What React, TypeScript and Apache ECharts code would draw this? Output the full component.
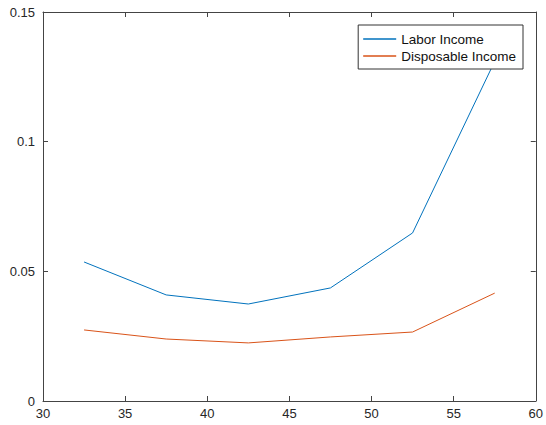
import React, { useEffect, useRef } from "react";
import * as echarts from "echarts";

const xValues = [32.5, 37.5, 42.5, 47.5, 52.5, 57.5];
const laborIncome = [0.0536, 0.0409, 0.0374, 0.0436, 0.0648, 0.131];
const disposableIncome = [0.0274, 0.0239, 0.0224, 0.0247, 0.0266, 0.0416];
const seriesNames = ["Labor Income", "Disposable Income"];

export default function App() {
  const ref = useRef<HTMLDivElement>(null);
  useEffect(() => {
    const chart = echarts.init(ref.current!, null, { renderer: "svg" });
    const axisColor = "#444";
    const labelStyle = { color: "#262626", fontSize: 13, fontFamily: "Liberation Sans, Arial, sans-serif" };
    const tickCommon = { show: true, inside: true, length: 5, lineStyle: { color: axisColor } };
    chart.setOption({
      animation: false,
      grid: { left: 43, right: 10, top: 12, bottom: 24, containLabel: false },
      legend: {
        right: 23,
        top: 25,
        orient: "vertical",
        backgroundColor: "#fff",
        borderColor: "#333",
        borderWidth: 1,
        borderRadius: 0,
        padding: [6, 7, 5, 5],
        itemGap: 1,
        itemWidth: 33,
        itemHeight: 1.5,
        icon: "rect",
        textStyle: { color: "#111", fontSize: 13.5, lineHeight: 16, fontFamily: "Liberation Sans, Arial, sans-serif" },
        data: seriesNames,
      },
      xAxis: [
        {
          type: "value",
          min: 30,
          max: 60,
          interval: 5,
          axisLine: { show: true, lineStyle: { color: axisColor } },
          axisTick: tickCommon,
          axisLabel: { ...labelStyle, margin: 6 },
          splitLine: { show: false },
        },
        {
          type: "value",
          position: "top",
          min: 30,
          max: 60,
          interval: 5,
          axisLine: { show: true, onZero: false, lineStyle: { color: axisColor } },
          axisTick: tickCommon,
          axisLabel: { show: false },
          splitLine: { show: false },
        },
      ],
      yAxis: [
        {
          type: "value",
          min: 0,
          max: 0.15,
          interval: 0.05,
          axisLine: { show: true, lineStyle: { color: axisColor } },
          axisTick: tickCommon,
          axisLabel: { ...labelStyle, margin: 8, formatter: (v: number) => String(Math.round(v * 100) / 100) },
          splitLine: { show: false },
        },
        {
          type: "value",
          position: "right",
          min: 0,
          max: 0.15,
          interval: 0.05,
          axisLine: { show: true, onZero: false, lineStyle: { color: axisColor } },
          axisTick: tickCommon,
          axisLabel: { show: false },
          splitLine: { show: false },
        },
      ],
      series: [
        {
          name: seriesNames[0],
          type: "line",
          data: xValues.map((x, i) => [x, laborIncome[i]]),
          symbol: "none",
          lineStyle: { color: "#0072BD", width: 1 },
          itemStyle: { color: "#0072BD" },
          z: 2,
        },
        {
          name: seriesNames[1],
          type: "line",
          data: xValues.map((x, i) => [x, disposableIncome[i]]),
          symbol: "none",
          lineStyle: { color: "#D95319", width: 1 },
          itemStyle: { color: "#D95319" },
          z: 2,
        },
      ],
    });
    return () => chart.dispose();
  }, []);
  return <div ref={ref} style={{ width: 546, height: 425, position: "absolute", left: 0, top: 0, background: "#fff" }} />;
}
